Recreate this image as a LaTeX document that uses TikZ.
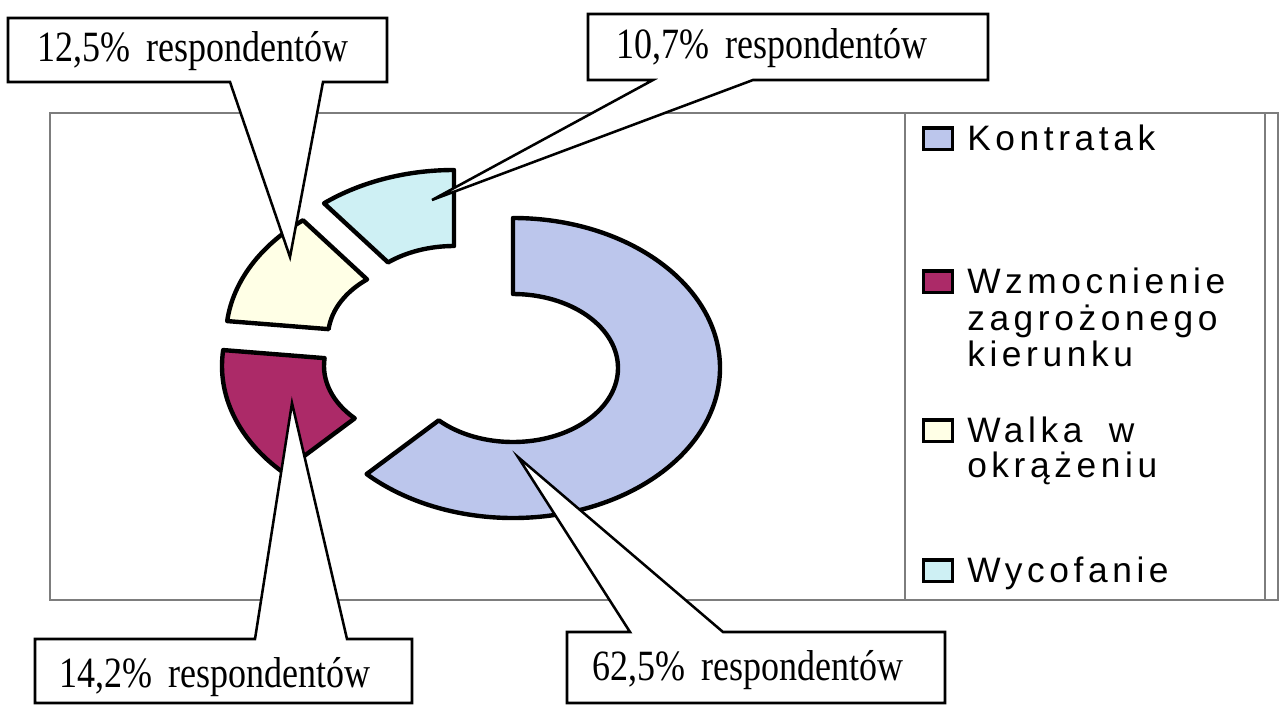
\documentclass[tikz,border=0pt]{standalone}
\usepackage{fontspec}
\usepackage{graphicx}
\setmainfont{Liberation Serif}
\newfontfamily\legfont{Liberation Sans}[LetterSpace=13]
\usetikzlibrary{calc}
\definecolor{kontr}{RGB}{188,198,236}
\definecolor{wzm}{RGB}{172,42,104}
\definecolor{walka}{RGB}{255,255,230}
\definecolor{wyc}{RGB}{206,240,244}
\definecolor{framegray}{RGB}{125,125,125}
\newcommand\donutseg[4]{%
  \path[seg,fill=#4] ($#1+(#2:207 and 150)$)
    arc[start angle=#2,end angle=#3,x radius=207,y radius=150]
    -- ($#1+(#3:105 and 74)$)
    arc[start angle=#3,end angle=#2,x radius=105,y radius=74] -- cycle;}
\newcommand\ctxt[1]{\scalebox{1}[1.2]{#1\%\hspace{0.45em}respondentów}}
\begin{document}
\begin{tikzpicture}[x=0.75pt,y=0.75pt,
  seg/.style={draw=black,line width=3.3pt,line join=round},
  callout/.style={draw=black,fill=white,line width=1.9pt,line join=miter},
  ctext/.style={font=\fontsize{27}{32}\selectfont,inner sep=0pt},
  legtext/.style={font=\legfont\fontsize{26.5}{30}\selectfont,anchor=base west,inner sep=0pt},
  legsq/.style={draw=black,line width=2.4pt,minimum width=21.5pt,minimum height=16pt,inner sep=0pt,anchor=south west},
  plotframe/.style={draw=framegray,line width=1pt}]
\useasboundingbox (0,0) rectangle (1282,-704);
% plot area and legend frame
\draw[plotframe] (50,-113) rectangle (1278,-600);
\draw[plotframe] (905,-113) -- (905,-600);
\draw[plotframe] (1265,-113) -- (1265,-600);
% doughnut segments
\donutseg{(513,-368)}{90}{-135}{kontr}
\donutseg{(429,-366)}{225}{173.9}{wzm}
\donutseg{(433,-337)}{173.9}{128.9}{walka}
\donutseg{(454,-320)}{128.9}{90}{wyc}
% callouts
\coordinate (t1) at (290,-257);
\coordinate (t2) at (432,-200);
\coordinate (t3) at (292,-403);
\coordinate (t4) at (518,-457);
\path[callout] (8,-18) -- (387,-18) -- (387,-82) -- (323,-82) -- (t1) -- (230,-82) -- (8,-82) -- cycle;
\path[callout] (588,-14) -- (988,-14) -- (988,-80) -- (753,-80) -- (t2) -- (653,-80) -- (588,-80) -- cycle;
\path[callout] (35,-639) -- (255,-639) -- (t3) -- (347,-639) -- (412,-639) -- (412,-703) -- (35,-703) -- cycle;
\path[callout] (567,-632) -- (630,-632) -- (t4) -- (723,-632) -- (945,-632) -- (945,-703) -- (567,-703) -- cycle;
\node[ctext] (c1) at (193,-51) {\ctxt{12,5}};
\node[ctext] (c2) at (772,-48) {\ctxt{10,7}};
\node[ctext] (c3) at (215,-677) {\ctxt{14,2}};
\node[ctext] (c4) at (748,-670) {\ctxt{62,5}};
% legend
\node[legsq,fill=kontr] (s1) at (922,-151) {};
\node[legsq,fill=wzm] (s2) at (922,-294) {};
\node[legsq,fill=walka] (s3) at (922,-443) {};
\node[legsq,fill=wyc] (s4) at (922,-583) {};
\node[legtext] (l1) at (967,-150) {Kontratak};
\node[legtext] (l2a) at (967,-293) {Wzmocnienie};
\node[legtext] (l2b) at (967,-330) {zagrożonego};
\node[legtext] (l2c) at (967,-366) {kierunku};
\node[legtext] (l3a) at (967,-442) {Walka\hspace{0.75em}w};
\node[legtext] (l3b) at (967,-477) {okrążeniu};
\node[legtext] (l4) at (967,-582) {Wycofanie};
\end{tikzpicture}
\end{document}
